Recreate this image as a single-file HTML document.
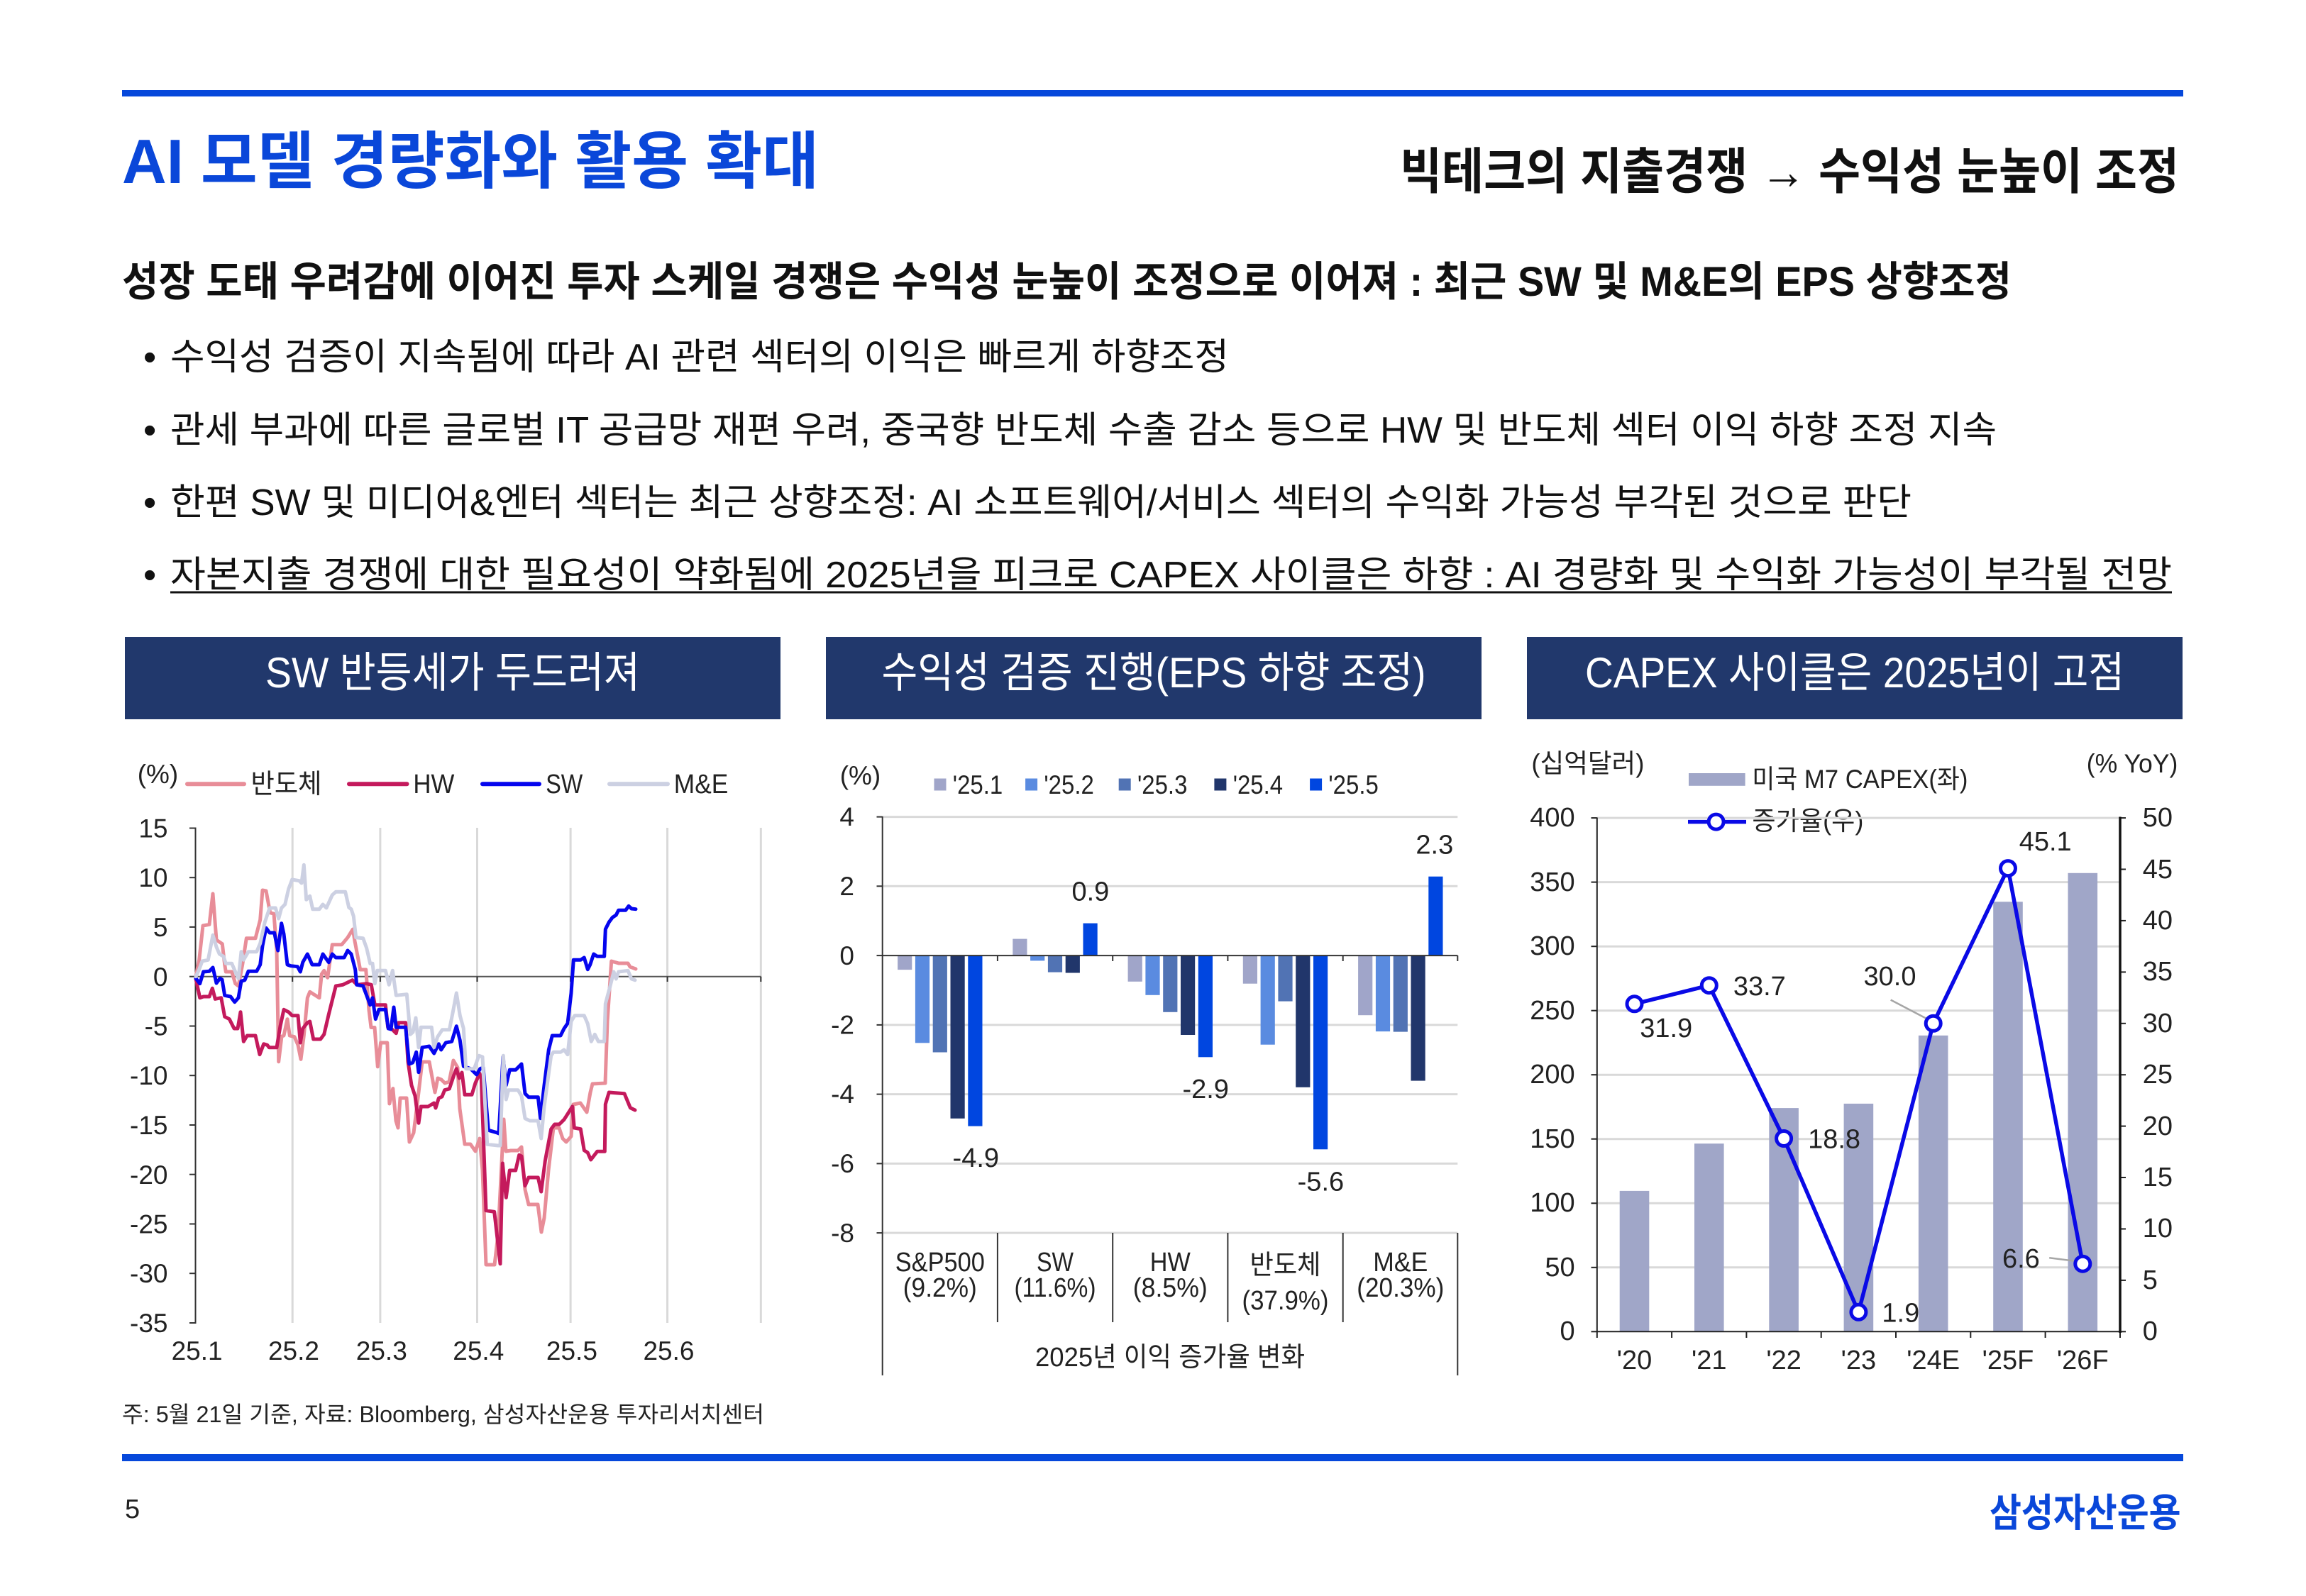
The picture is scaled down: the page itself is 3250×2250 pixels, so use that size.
<!DOCTYPE html>
<html><head><meta charset="utf-8"><style>html,body{margin:0;padding:0;background:#fff}svg{display:block}</style></head><body>
<svg width="3250" height="2250" viewBox="0 0 3250 2250" xmlns="http://www.w3.org/2000/svg" font-family="'Liberation Sans','Noto Sans CJK KR',sans-serif">
<rect width="3250" height="2250" fill="#fff"/>
<!-- header -->
<rect x="172" y="127" width="2905" height="9" fill="#0648db"/>
<text x="172" y="258" font-size="88" font-weight="bold" fill="#0a47d9" textLength="982" lengthAdjust="spacingAndGlyphs">AI 모델 경량화와 활용 확대</text>
<text x="1973" y="266" font-size="70" font-weight="bold" fill="#111" textLength="1098" lengthAdjust="spacingAndGlyphs">빅테크의 지출경쟁 → 수익성 눈높이 조정</text>
<text x="172" y="417" font-size="58" font-weight="bold" fill="#111" textLength="2663" lengthAdjust="spacingAndGlyphs">성장 도태 우려감에 이어진 투자 스케일 경쟁은 수익성 눈높이 조정으로 이어져 : 최근 SW 및 M&amp;E의 EPS 상향조정</text>
<g font-size="52" fill="#111">
<text x="202" y="521">•</text><text x="240" y="521" textLength="1492" lengthAdjust="spacingAndGlyphs">수익성 검증이 지속됨에 따라 AI 관련 섹터의 이익은 빠르게 하향조정</text>
<text x="202" y="624">•</text><text x="240" y="624" textLength="2574" lengthAdjust="spacingAndGlyphs">관세 부과에 따른 글로벌 IT 공급망 재편 우려, 중국향 반도체 수출 감소 등으로 HW 및 반도체 섹터 이익 하향 조정 지속</text>
<text x="202" y="726">•</text><text x="240" y="726" textLength="2454" lengthAdjust="spacingAndGlyphs">한편 SW 및 미디어&amp;엔터 섹터는 최근 상향조정: AI 소프트웨어/서비스 섹터의 수익화 가능성 부각된 것으로 판단</text>
<text x="202" y="828">•</text><text x="240" y="828" textLength="2821" lengthAdjust="spacingAndGlyphs">자본지출 경쟁에 대한 필요성이 약화됨에 2025년을 피크로 CAPEX 사이클은 하향 : AI 경량화 및 수익화 가능성이 부각될 전망</text>
</g>
<line x1="240" y1="835" x2="3061" y2="835" stroke="#111" stroke-width="3"/>

<!-- title bars -->
<rect x="176" y="898" width="924" height="116" fill="#21386c"/>
<rect x="1164" y="898" width="924" height="116" fill="#21386c"/>
<rect x="2152" y="898" width="924" height="116" fill="#21386c"/>
<g font-size="60" fill="#fff" text-anchor="middle">
<text x="638" y="969" textLength="528" lengthAdjust="spacingAndGlyphs">SW 반등세가 두드러져</text>
<text x="1626" y="969" textLength="767" lengthAdjust="spacingAndGlyphs">수익성 검증 진행(EPS 하향 조정)</text>
<text x="2614" y="969" textLength="760" lengthAdjust="spacingAndGlyphs">CAPEX 사이클은 2025년이 고점</text>
</g>

<!-- LEFT CHART -->
<g stroke="#d9d9d9" stroke-width="3">
<line x1="412.2" y1="1167" x2="412.2" y2="1865"/><line x1="535.9" y1="1167" x2="535.9" y2="1865"/><line x1="672.5" y1="1167" x2="672.5" y2="1865"/><line x1="804.1" y1="1167" x2="804.1" y2="1865"/><line x1="940.6" y1="1167" x2="940.6" y2="1865"/><line x1="1072.3" y1="1167" x2="1072.3" y2="1865"/>
</g>
<line x1="275.5" y1="1376.7" x2="1072.3" y2="1376.7" stroke="#555" stroke-width="2"/>
<g stroke="#333" stroke-width="2">
<line x1="412.2" y1="1376.7" x2="412.2" y2="1384"/><line x1="535.9" y1="1376.7" x2="535.9" y2="1384"/><line x1="672.5" y1="1376.7" x2="672.5" y2="1384"/><line x1="804.1" y1="1376.7" x2="804.1" y2="1384"/><line x1="940.6" y1="1376.7" x2="940.6" y2="1384"/><line x1="1072.3" y1="1376.7" x2="1072.3" y2="1384"/>
<line x1="275.5" y1="1166.5" x2="275.5" y2="1866"/>
<line x1="267" y1="1167.5" x2="275.5" y2="1167.5"/><line x1="267" y1="1237.2" x2="275.5" y2="1237.2"/><line x1="267" y1="1306.9" x2="275.5" y2="1306.9"/><line x1="267" y1="1376.7" x2="275.5" y2="1376.7"/><line x1="267" y1="1446.5" x2="275.5" y2="1446.5"/><line x1="267" y1="1516.2" x2="275.5" y2="1516.2"/><line x1="267" y1="1586" x2="275.5" y2="1586"/><line x1="267" y1="1655.7" x2="275.5" y2="1655.7"/><line x1="267" y1="1725.5" x2="275.5" y2="1725.5"/><line x1="267" y1="1795.2" x2="275.5" y2="1795.2"/><line x1="267" y1="1865" x2="275.5" y2="1865"/>
</g>
<g font-size="37" fill="#222" text-anchor="end">
<text x="236.5" y="1180.5">15</text><text x="236.5" y="1250">10</text><text x="236.5" y="1320">5</text><text x="236.5" y="1390">0</text><text x="236.5" y="1459.5">-5</text><text x="236.5" y="1529">-10</text><text x="236.5" y="1599">-15</text><text x="236.5" y="1669">-20</text><text x="236.5" y="1738.5">-25</text><text x="236.5" y="1808">-30</text><text x="236.5" y="1878">-35</text>
</g>
<g font-size="37" fill="#222" text-anchor="middle">
<text x="277.6" y="1917">25.1</text><text x="414" y="1917">25.2</text><text x="537.8" y="1917">25.3</text><text x="674.3" y="1917">25.4</text><text x="805.9" y="1917">25.5</text><text x="942.5" y="1917">25.6</text>
</g>
<!-- legend left -->
<text x="193.7" y="1104" font-size="37" fill="#222">(%)</text>
<g stroke-width="6" stroke-linecap="round">
<line x1="264" y1="1105.3" x2="344" y2="1105.3" stroke="#e88d98"/>
<line x1="492" y1="1105.3" x2="573.5" y2="1105.3" stroke="#c41a5c"/>
<line x1="680" y1="1105.3" x2="760" y2="1105.3" stroke="#0505ee"/>
<line x1="859" y1="1105.3" x2="941" y2="1105.3" stroke="#ccd0e2"/>
</g>
<g font-size="38" fill="#222">
<text x="353.5" y="1118" textLength="100" lengthAdjust="spacingAndGlyphs">반도체</text>
<text x="582.4" y="1118" textLength="58" lengthAdjust="spacingAndGlyphs">HW</text>
<text x="769.2" y="1118" textLength="52" lengthAdjust="spacingAndGlyphs">SW</text>
<text x="949.8" y="1118" textLength="76.5" lengthAdjust="spacingAndGlyphs">M&amp;E</text>
</g>
<g fill="none" stroke-width="5" stroke-linejoin="round" stroke-linecap="round">
<polyline stroke="#e88d98" points="276,1376.7 280.7,1353.3 286,1305 295,1303.3 300,1260 305,1325 313.3,1330.7 316.7,1360 318.3,1370 326.7,1370 331.7,1386.7 336,1390 341.7,1360 347.3,1322.7 360,1322.7 366.7,1296.7 370,1255 375,1256 380.7,1286.7 386,1288.3 390,1340 392.7,1496.7 397,1461 400,1460 405,1436.7 408.3,1460 415,1461.7 420,1473.3 424,1493.3 428.3,1460 433.3,1406.7 436.7,1398.3 450,1406.7 453.3,1373.3 456.7,1368.3 461.7,1378.3 468.3,1331.7 481.7,1331.7 490,1321.7 497.3,1310 500,1326.7 507.7,1367 515.7,1367 520,1423.8 523,1448.5 528,1448.5 532.3,1503.8 536.6,1470 545.8,1470 548.9,1556 553.8,1534.6 558,1580 561,1590 564,1548 573,1548 577,1610 583,1597 590,1540 595,1497 605,1497 613,1540 617,1520 622,1522 627,1527 633,1525 639,1495 645,1505 648,1563 655,1613 663,1613 670,1623 676,1605 680,1650 685,1783 697,1783 702,1740 707,1640 710,1578 713,1623 720,1622 730,1622 735,1617 740,1677 745,1698 758,1698 763,1737 767,1717 773,1650 780,1590 788,1590 793,1605 798,1610 805,1602 808,1557 818,1555 827,1568 832,1540 835,1528 853,1527 856,1440 861.7,1355 872,1358 885,1358 888,1363 896,1366"/>
<polyline stroke="#c41a5c" points="276,1380 281.7,1406.7 286.7,1405 295,1405 299.3,1393.3 303.3,1408.3 311.7,1406.7 316.7,1433.3 323.3,1436.7 330,1450 335,1450 339,1426.7 343.3,1468.3 348.3,1460 360,1460 366,1486.7 371.7,1471.7 376.7,1473.3 379.3,1476.7 390,1476.7 395,1446.7 400,1423.3 406.7,1426.7 411.7,1431.7 420,1431.7 423.3,1470 426.7,1450 433.3,1441.7 436.7,1440 441.7,1465 451.7,1465 456.7,1458.3 463.3,1430 473.3,1390 483.3,1388.3 496.7,1381.7 503.3,1388.3 516.7,1386.7 523.3,1388.3 528.3,1416.7 543.3,1416.7 546.7,1448.3 553.3,1451.7 558.3,1456.7 561.7,1441.7 571.7,1441.7 575,1496.7 580,1530 585,1545 590,1583.3 593.3,1560 603.3,1560 611.7,1555 614,1562 618.3,1548.3 623,1546 626.7,1536.7 633.3,1535 640,1515 643.3,1506.7 647.3,1520 651,1512 655,1543.3 665,1543.3 670,1526.7 676,1513.3 678.3,1520 685,1706.7 696.7,1708.3 705,1781.7 708.3,1640 713.3,1688.3 718.3,1650 726.7,1650 731.7,1628.3 735,1630 740,1671.7 745,1660 758.3,1660 762.7,1680 768.3,1636.7 776.7,1591.7 781.7,1585 788.3,1585 795,1578.3 806.7,1560 809.3,1590 818.3,1591.7 823.3,1621.7 828.3,1625 832.7,1635 841.7,1623.3 852.3,1623.3 853.3,1556.7 858.3,1540 880,1541.7 888.3,1561.7 895,1565"/>
<polyline stroke="#0505ee" points="276,1379.3 281.7,1386.7 286.7,1370 295,1369.3 300,1364 305,1386 310,1379.3 313,1381 316.7,1403.3 325,1405 330.7,1412.7 336,1406.7 340,1383.3 345,1381.7 350,1369.3 361.7,1369.3 366.7,1360 370,1333.3 375,1308.3 380,1315 386.7,1315 391.7,1340 396.7,1301.7 400,1316.7 405,1360 410,1361.7 419.3,1362.7 423.3,1370 426.7,1356.7 433.3,1345 440,1360 450,1360 455,1345 463.3,1356.7 468.3,1345 473.3,1350 485,1350 490,1340 495,1345 500.7,1366.7 502.7,1388.3 511.7,1390 516.7,1403.3 521.7,1416.7 525,1406.7 529.3,1436.7 534,1423.3 543.3,1423.3 547.3,1450 551,1451 555,1420 558.3,1448.3 571.7,1448.3 576.7,1500 581.7,1498 586.7,1483.3 590,1511.7 595,1476.7 605,1475 611.7,1485 618.3,1471.7 621.7,1480 628.3,1470 636.7,1468.3 643.3,1446.7 648.3,1466.7 653.3,1503.3 663.3,1506.7 671.7,1515 676.7,1506.7 681,1505 688.3,1593.3 700,1596.7 703,1598 709,1490 713.3,1530 718.3,1508.3 726.7,1508.3 735,1500 740,1541.7 745,1546.7 758.3,1546.7 761.7,1576.7 767,1530 773.3,1480 778.3,1460 790,1460 795,1450 800,1442.7 805,1400 808.3,1353.3 818.3,1353.3 823.3,1350 828.3,1366.7 831.7,1360 836.7,1345 841.7,1348.3 851.7,1348.3 853.3,1310 858.3,1300 863.3,1293.3 868.3,1290 871.7,1283.3 881.7,1283.3 886,1277.3 890,1281 896,1281.7"/>
<polyline stroke="#ccd0e2" points="276,1376.7 280.7,1366.7 285,1355 293.3,1353.3 300,1318.3 305,1335 309.3,1345 315,1348.3 318.3,1358.3 326.7,1358.3 331.7,1370 336,1379.3 340,1341.7 343.3,1353.3 350,1341.7 361.7,1341.7 366.7,1330 373.3,1300 380,1280 388.3,1280 392.7,1295 396.7,1280 401.7,1275 406.7,1253.3 411.7,1240 421.7,1241.7 425,1245 428.3,1219.3 431.7,1268.3 436.7,1263.3 440.7,1281.7 450,1281.7 455,1275 460,1280 468.3,1261.7 473.3,1257.3 486.7,1257.3 491.7,1279.3 495,1281.7 498.3,1291.7 501.7,1321.7 511.7,1322.7 516.7,1336.7 521.7,1358.3 525,1358.3 528.3,1386.7 531.7,1368.3 543.3,1368.3 548.3,1388.3 553.3,1368.3 558.3,1403.3 573.3,1401.7 578.3,1458.3 582,1455 586,1435 590,1476.7 593.3,1448.3 608.3,1448.3 611.7,1476.7 616.7,1461.7 623.3,1451.7 633.3,1451.7 638.3,1426.7 643.3,1400 648.3,1431.7 653.3,1450 656.7,1506.7 668.3,1506.7 675,1488.3 680,1490 686.7,1613.3 701.7,1615 705,1615 709.3,1488.3 713.3,1550 716.7,1536.7 730,1536.7 735,1545 740,1576.7 746.7,1580 758.3,1580 762.7,1605 767,1560 776.7,1488.3 780,1483.3 790,1483.3 795,1480 800,1486.7 805,1440 810,1431.7 823.3,1431.7 828.3,1443.3 833.3,1468.3 838.3,1458.3 843.3,1468.3 851.7,1468.3 853.3,1415 860,1390 865,1370 868.3,1380 871.7,1370 885,1368.3 890,1380 895,1381.7"/>
</g>

<!-- MIDDLE CHART -->
<text x="1183.7" y="1106" font-size="37" fill="#222">(%)</text>
<rect x="1316.5" y="1097.5" width="17" height="17" fill="#a0a5c9"/>
<rect x="1445.1" y="1097.5" width="17" height="17" fill="#5a8be0"/>
<rect x="1576.7" y="1097.5" width="17" height="17" fill="#5173b4"/>
<rect x="1711.4" y="1097.5" width="17" height="17" fill="#21366b"/>
<rect x="1846.1" y="1097.5" width="17" height="17" fill="#0046e0"/>
<g font-size="37" fill="#222">
<text x="1342.8" y="1119" textLength="70.4" lengthAdjust="spacingAndGlyphs">'25.1</text>
<text x="1471.4" y="1119" textLength="70.4" lengthAdjust="spacingAndGlyphs">'25.2</text>
<text x="1603" y="1119" textLength="70.4" lengthAdjust="spacingAndGlyphs">'25.3</text>
<text x="1737.7" y="1119" textLength="70.4" lengthAdjust="spacingAndGlyphs">'25.4</text>
<text x="1872.4" y="1119" textLength="70.4" lengthAdjust="spacingAndGlyphs">'25.5</text>
</g>
<g stroke="#d9d9d9" stroke-width="3">
<line x1="1243.7" y1="1151.6" x2="2054.3" y2="1151.6"/><line x1="1243.7" y1="1249.3" x2="2054.3" y2="1249.3"/><line x1="1243.7" y1="1444.9" x2="2054.3" y2="1444.9"/><line x1="1243.7" y1="1542.6" x2="2054.3" y2="1542.6"/><line x1="1243.7" y1="1640.4" x2="2054.3" y2="1640.4"/><line x1="1243.7" y1="1738.1" x2="2054.3" y2="1738.1"/>
</g>
<g>
<rect x="1265.1" y="1347.1" width="20.2" height="20" fill="#a0a5c9"/>
<rect x="1289.9" y="1347.1" width="20.2" height="123.2" fill="#5a8be0"/>
<rect x="1314.7" y="1347.1" width="20.2" height="136.4" fill="#5173b4"/>
<rect x="1339.5" y="1347.1" width="20.2" height="229.7" fill="#21366b"/>
<rect x="1364.3" y="1347.1" width="20.2" height="240.5" fill="#0046e0"/>
<rect x="1427.3" y="1323.6" width="20.2" height="23.5" fill="#a0a5c9"/>
<rect x="1452.1" y="1347.1" width="20.2" height="7.3" fill="#5a8be0"/>
<rect x="1476.9" y="1347.1" width="20.2" height="23.5" fill="#5173b4"/>
<rect x="1501.7" y="1347.1" width="20.2" height="24.4" fill="#21366b"/>
<rect x="1526.5" y="1301.6" width="20.2" height="45.5" fill="#0046e0"/>
<rect x="1589.6" y="1347.1" width="20.2" height="36.7" fill="#a0a5c9"/>
<rect x="1614.4" y="1347.1" width="20.2" height="55.7" fill="#5a8be0"/>
<rect x="1639.2" y="1347.1" width="20.2" height="79.7" fill="#5173b4"/>
<rect x="1664" y="1347.1" width="20.2" height="111.9" fill="#21366b"/>
<rect x="1688.8" y="1347.1" width="20.2" height="143.2" fill="#0046e0"/>
<rect x="1751.8" y="1347.1" width="20.2" height="39.6" fill="#a0a5c9"/>
<rect x="1776.6" y="1347.1" width="20.2" height="125.6" fill="#5a8be0"/>
<rect x="1801.4" y="1347.1" width="20.2" height="64.5" fill="#5173b4"/>
<rect x="1826.2" y="1347.1" width="20.2" height="185.7" fill="#21366b"/>
<rect x="1851" y="1347.1" width="20.2" height="273.2" fill="#0046e0"/>
<rect x="1914.1" y="1347.1" width="20.2" height="84.1" fill="#a0a5c9"/>
<rect x="1938.9" y="1347.1" width="20.2" height="107" fill="#5a8be0"/>
<rect x="1963.7" y="1347.1" width="20.2" height="107.5" fill="#5173b4"/>
<rect x="1988.5" y="1347.1" width="20.2" height="176.5" fill="#21366b"/>
<rect x="2013.3" y="1235.7" width="20.2" height="111.4" fill="#0046e0"/>
</g>
<g stroke="#333" stroke-width="2">
<line x1="1243.7" y1="1347.1" x2="2054.3" y2="1347.1"/>
<line x1="1243.7" y1="1151" x2="1243.7" y2="1939"/>
<line x1="2054.3" y1="1738" x2="2054.3" y2="1939"/>
<line x1="1405.9" y1="1738" x2="1405.9" y2="1864"/><line x1="1568.2" y1="1738" x2="1568.2" y2="1864"/><line x1="1730.4" y1="1738" x2="1730.4" y2="1864"/><line x1="1892.7" y1="1738" x2="1892.7" y2="1864"/>
<line x1="1405.9" y1="1347" x2="1405.9" y2="1355"/><line x1="1568.2" y1="1347" x2="1568.2" y2="1355"/><line x1="1730.4" y1="1347" x2="1730.4" y2="1355"/><line x1="1892.7" y1="1347" x2="1892.7" y2="1355"/><line x1="2054.3" y1="1347" x2="2054.3" y2="1355"/>
<line x1="1235.5" y1="1151.6" x2="1243.7" y2="1151.6"/><line x1="1235.5" y1="1249.3" x2="1243.7" y2="1249.3"/><line x1="1235.5" y1="1347.1" x2="1243.7" y2="1347.1"/><line x1="1235.5" y1="1444.9" x2="1243.7" y2="1444.9"/><line x1="1235.5" y1="1542.6" x2="1243.7" y2="1542.6"/><line x1="1235.5" y1="1640.4" x2="1243.7" y2="1640.4"/><line x1="1235.5" y1="1738.1" x2="1243.7" y2="1738.1"/>
</g>
<g font-size="37" fill="#222" text-anchor="end">
<text x="1204" y="1164">4</text><text x="1204" y="1262">2</text><text x="1204" y="1360">0</text><text x="1204" y="1457.5">-2</text><text x="1204" y="1555">-4</text><text x="1204" y="1653">-6</text><text x="1204" y="1751">-8</text>
</g>
<g font-size="38" fill="#222" text-anchor="middle">
<text x="1375.3" y="1645">-4.9</text><text x="1536.9" y="1269.5">0.9</text><text x="1699.2" y="1548">-2.9</text><text x="1861.4" y="1678.5">-5.6</text><text x="2021.8" y="1203.4">2.3</text>
</g>
<g font-size="38" fill="#222" text-anchor="middle">
<text x="1324.8" y="1792" textLength="126" lengthAdjust="spacingAndGlyphs">S&amp;P500</text>
<text x="1324.8" y="1828" textLength="104" lengthAdjust="spacingAndGlyphs">(9.2%)</text>
<text x="1487" y="1792" textLength="52" lengthAdjust="spacingAndGlyphs">SW</text>
<text x="1487" y="1828" textLength="115" lengthAdjust="spacingAndGlyphs">(11.6%)</text>
<text x="1649.3" y="1792" textLength="57" lengthAdjust="spacingAndGlyphs">HW</text>
<text x="1649.3" y="1828" textLength="105" lengthAdjust="spacingAndGlyphs">(8.5%)</text>
<text x="1811.5" y="1796" textLength="100" lengthAdjust="spacingAndGlyphs">반도체</text>
<text x="1811.5" y="1846" textLength="122" lengthAdjust="spacingAndGlyphs">(37.9%)</text>
<text x="1973.8" y="1792" textLength="77" lengthAdjust="spacingAndGlyphs">M&amp;E</text>
<text x="1973.8" y="1828" textLength="123" lengthAdjust="spacingAndGlyphs">(20.3%)</text>
<text x="1649" y="1926" textLength="380" lengthAdjust="spacingAndGlyphs">2025년 이익 증가율 변화</text>
</g>

<!-- RIGHT CHART -->
<g font-size="37" fill="#222">
<text x="2158.4" y="1089" textLength="159" lengthAdjust="spacingAndGlyphs">(십억달러)</text>
<text x="2940.8" y="1089" textLength="128.6" lengthAdjust="spacingAndGlyphs">(% YoY)</text>
<text x="2469.4" y="1111" textLength="304" lengthAdjust="spacingAndGlyphs">미국 M7 CAPEX(좌)</text>
<text x="2469.4" y="1170" textLength="157" lengthAdjust="spacingAndGlyphs">증가율(우)</text>
</g>
<g stroke="#d9d9d9" stroke-width="3">
<line x1="2250.8" y1="1153.1" x2="2988" y2="1153.1"/><line x1="2250.8" y1="1243.6" x2="2988" y2="1243.6"/><line x1="2250.8" y1="1334.2" x2="2988" y2="1334.2"/><line x1="2250.8" y1="1424.7" x2="2988" y2="1424.7"/><line x1="2250.8" y1="1515.2" x2="2988" y2="1515.2"/><line x1="2250.8" y1="1605.7" x2="2988" y2="1605.7"/><line x1="2250.8" y1="1696.3" x2="2988" y2="1696.3"/><line x1="2250.8" y1="1786.8" x2="2988" y2="1786.8"/>
</g>
<rect x="2380" y="1090" width="79.6" height="17.8" fill="#a0a6c8"/>
<g fill="#a0a6c8">
<rect x="2282.7" y="1678.9" width="41.6" height="198.4"/>
<rect x="2388" y="1612.2" width="41.6" height="265.1"/>
<rect x="2493.3" y="1562.1" width="41.6" height="315.2"/>
<rect x="2598.6" y="1555.9" width="41.6" height="321.4"/>
<rect x="2703.9" y="1459.8" width="41.6" height="417.5"/>
<rect x="2809.2" y="1271.3" width="41.6" height="606"/>
<rect x="2914.5" y="1230.8" width="41.6" height="646.5"/>
</g>
<g stroke="#222" stroke-width="2">
<line x1="2250.8" y1="1152.5" x2="2250.8" y2="1878"/>
<line x1="2250.8" y1="1877.3" x2="2988" y2="1877.3"/>
<line x1="2242.5" y1="1153.1" x2="2250.8" y2="1153.1"/><line x1="2242.5" y1="1243.6" x2="2250.8" y2="1243.6"/><line x1="2242.5" y1="1334.2" x2="2250.8" y2="1334.2"/><line x1="2242.5" y1="1424.7" x2="2250.8" y2="1424.7"/><line x1="2242.5" y1="1515.2" x2="2250.8" y2="1515.2"/><line x1="2242.5" y1="1605.7" x2="2250.8" y2="1605.7"/><line x1="2242.5" y1="1696.3" x2="2250.8" y2="1696.3"/><line x1="2242.5" y1="1786.8" x2="2250.8" y2="1786.8"/><line x1="2242.5" y1="1877.3" x2="2250.8" y2="1877.3"/>
<line x1="2250.8" y1="1877.3" x2="2250.8" y2="1886"/><line x1="2356.1" y1="1877.3" x2="2356.1" y2="1886"/><line x1="2461.4" y1="1877.3" x2="2461.4" y2="1886"/><line x1="2566.7" y1="1877.3" x2="2566.7" y2="1886"/><line x1="2672" y1="1877.3" x2="2672" y2="1886"/><line x1="2777.3" y1="1877.3" x2="2777.3" y2="1886"/><line x1="2882.6" y1="1877.3" x2="2882.6" y2="1886"/><line x1="2988" y1="1877.3" x2="2988" y2="1886"/>
<line x1="2988" y1="1153.1" x2="2996" y2="1153.1"/><line x1="2988" y1="1225.5" x2="2996" y2="1225.5"/><line x1="2988" y1="1297.9" x2="2996" y2="1297.9"/><line x1="2988" y1="1370.4" x2="2996" y2="1370.4"/><line x1="2988" y1="1442.8" x2="2996" y2="1442.8"/><line x1="2988" y1="1515.2" x2="2996" y2="1515.2"/><line x1="2988" y1="1587.6" x2="2996" y2="1587.6"/><line x1="2988" y1="1660" x2="2996" y2="1660"/><line x1="2988" y1="1732.5" x2="2996" y2="1732.5"/><line x1="2988" y1="1804.9" x2="2996" y2="1804.9"/><line x1="2988" y1="1877.3" x2="2996" y2="1877.3"/>
</g>
<line x1="2988" y1="1151.5" x2="2988" y2="1879" stroke="#111" stroke-width="3.5"/>
<g font-size="38" fill="#222" text-anchor="end">
<text x="2219.6" y="1165">400</text><text x="2219.6" y="1256">350</text><text x="2219.6" y="1346">300</text><text x="2219.6" y="1437">250</text><text x="2219.6" y="1527">200</text><text x="2219.6" y="1618">150</text><text x="2219.6" y="1708">100</text><text x="2219.6" y="1799">50</text><text x="2219.6" y="1889">0</text>
</g>
<g font-size="38" fill="#222">
<text x="3019.8" y="1165">50</text><text x="3019.8" y="1238">45</text><text x="3019.8" y="1310">40</text><text x="3019.8" y="1382">35</text><text x="3019.8" y="1455">30</text><text x="3019.8" y="1527">25</text><text x="3019.8" y="1600">20</text><text x="3019.8" y="1672">15</text><text x="3019.8" y="1744">10</text><text x="3019.8" y="1817">5</text><text x="3019.8" y="1889">0</text>
</g>
<g font-size="38" fill="#222" text-anchor="middle">
<text x="2303.5" y="1930">'20</text><text x="2408.8" y="1930">'21</text><text x="2514.1" y="1930">'22</text><text x="2619.4" y="1930">'23</text><text x="2724.7" y="1930">'24E</text><text x="2830" y="1930">'25F</text><text x="2935.3" y="1930">'26F</text>
</g>
<g stroke="#a6a6a6" stroke-width="2.5" fill="none">
<line x1="2664.7" y1="1409.6" x2="2719" y2="1438"/>
<line x1="2888.2" y1="1773.3" x2="2926" y2="1778"/>
</g>
<polyline fill="none" stroke="#0a0ae6" stroke-width="5.5" stroke-linejoin="round" points="2303.5,1415.3 2408.8,1389.2 2514.1,1605 2619.4,1849.8 2724.7,1442.8 2830,1224.1 2935.3,1781.7"/>
<g fill="#fff" stroke="#0a0ae6" stroke-width="5">
<circle cx="2303.5" cy="1415.3" r="10.5"/><circle cx="2408.8" cy="1389.2" r="10.5"/><circle cx="2514.1" cy="1605" r="10.5"/><circle cx="2619.4" cy="1849.8" r="10.5"/><circle cx="2724.7" cy="1442.8" r="10.5"/><circle cx="2830" cy="1224.1" r="10.5"/><circle cx="2935.3" cy="1781.7" r="10.5"/>
</g>
<line x1="2379" y1="1158.6" x2="2461" y2="1158.6" stroke="#0a0ae6" stroke-width="5.5"/>
<circle cx="2418.6" cy="1158.6" r="10.5" fill="#fff" stroke="#0a0ae6" stroke-width="5"/>
<g font-size="38" fill="#222" text-anchor="middle">
<text x="2348.2" y="1462">31.9</text><text x="2479.8" y="1403">33.7</text><text x="2585.1" y="1618.5">18.8</text><text x="2678.8" y="1863.4">1.9</text><text x="2663.5" y="1389">30.0</text><text x="2882.7" y="1199">45.1</text><text x="2848.4" y="1787">6.6</text>
</g>

<!-- footer -->
<text x="172" y="2005" font-size="32" fill="#222" textLength="905" lengthAdjust="spacingAndGlyphs">주: 5월 21일 기준, 자료: Bloomberg, 삼성자산운용 투자리서치센터</text>
<rect x="172" y="2050" width="2905" height="10" fill="#0648db"/>
<text x="176" y="2140" font-size="38" fill="#222">5</text>
<text x="2804" y="2152" font-size="55" font-weight="bold" fill="#0a47d9" textLength="269.6" lengthAdjust="spacingAndGlyphs">삼성자산운용</text>
</svg>
</body></html>
